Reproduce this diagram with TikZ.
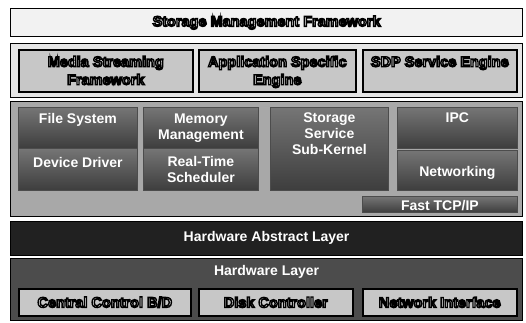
\documentclass[tikz,border=0pt]{standalone}
\usepackage{fontspec}
\setmainfont{Liberation Sans}
\usetikzlibrary{positioning}

\definecolor{topgray}{gray}{0.95}
\definecolor{appgray}{gray}{0.90}
\definecolor{litegray}{gray}{0.78}
\definecolor{kergray}{gray}{0.66}
\definecolor{dktop}{gray}{0.46}
\definecolor{dkbot}{gray}{0.24}
\definecolor{halgray}{gray}{0.13}
\definecolor{hwgray}{gray}{0.30}

% white letters with a black outline
\newcommand\olt[1]{{\color{white}\special{pdf:literal direct 0 G 1.4 w 2 Tr}#1\special{pdf:literal direct 0 Tr}}}

\tikzset{
  layer/.style={draw=black,line width=1.2pt,anchor=north west,inner sep=0pt},
  litebox/.style={draw=black,line width=1.6pt,fill=litegray,anchor=north west,inner sep=0pt},
  darkbox/.style={draw=black!70,line width=0.8pt,top color=dktop,bottom color=dkbot,anchor=north west,inner sep=0pt},
  wlbl/.style={text=white,font=\bfseries\fontsize{14}{16}\selectfont,align=center,inner sep=0pt},
  olbl/.style={font=\bfseries\fontsize{14.5}{18}\selectfont,align=center,inner sep=0pt}
}

\begin{document}
\begin{tikzpicture}[x=1pt,y=-1pt]
\useasboundingbox (0,0) rectangle (526,322);
% top layer
\node[layer,fill=topgray,minimum width=512,minimum height=28] (smf) at (10,8){};
\node[olbl] at (smf.center){\olt{Storage Management Framework}};
% application layer
\node[layer,fill=appgray,minimum width=512,minimum height=54] (app) at (10,43){};
\node[litebox,minimum width=174,minimum height=42] (msf) at (18,49){};
\node[litebox,minimum width=157,minimum height=42] (ase) at (198,49){};
\node[litebox,minimum width=154,minimum height=42] (sdp) at (362,49){};
\node[olbl,anchor=north] at ([yshift=-7pt]msf.north){\olt{Media Streaming}\\\olt{Framework}};
\node[olbl,anchor=north] at ([yshift=-7pt]ase.north){\olt{Application Specific}\\\olt{Engine}};
\node[olbl,anchor=north] at ([yshift=-7pt]sdp.north){\olt{SDP Service Engine}};
% kernel layer
\node[layer,fill=kergray,minimum width=512,minimum height=115] (ker) at (10,101){};
\node[darkbox,minimum width=119,minimum height=41] (fs) at (18,107){};
\node[darkbox,minimum width=115,minimum height=41] (mm) at (143,107){};
\node[darkbox,minimum width=119,minimum height=42] (dd) at (18,148){};
\node[darkbox,minimum width=115,minimum height=42] (rts) at (143,148){};
\node[darkbox,minimum width=118,minimum height=83] (ssk) at (270,107){};
\node[darkbox,minimum width=120,minimum height=41] (ipc) at (397,107){};
\node[darkbox,minimum width=120,minimum height=40] (net) at (397,150){};
\node[darkbox,minimum width=155,minimum height=16] (tcp) at (362,196){};
\node[wlbl,anchor=north] at ([yshift=-6pt]fs.north){File System};
\node[wlbl,anchor=north] at ([yshift=-7pt]mm.north){Memory\\Management};
\node[wlbl,anchor=north] at ([yshift=-9pt]dd.north){Device Driver};
\node[wlbl,anchor=north] at ([yshift=-8pt]rts.north){Real-Time\\Scheduler};
\node[wlbl,anchor=north] at ([yshift=-6pt]ssk.north){Storage\\Service\\Sub-Kernel};
\node[wlbl,anchor=north] at ([yshift=-6pt]ipc.north){IPC};
\node[wlbl] at ([yshift=-3pt]net.center){Networking};
\node[wlbl] at ([yshift=-1pt]tcp.center){Fast TCP/IP};
% hardware abstract layer
\node[layer,fill=halgray,minimum width=512,minimum height=34] (hal) at (10,221){};
\node[wlbl] at ([yshift=1pt]hal.center){Hardware Abstract Layer};
% hardware layer
\node[layer,fill=hwgray,minimum width=512,minimum height=62] (hw) at (10,258){};
\node[wlbl,anchor=north] at ([yshift=-7pt]hw.north){Hardware Layer};
\node[litebox,minimum width=172,minimum height=27] (ccb) at (18,288){};
\node[litebox,minimum width=154,minimum height=27] (dc) at (198,288){};
\node[litebox,minimum width=154,minimum height=27] (ni) at (362,288){};
\foreach \bx/\txt in {ccb/{Central Control B/D},dc/Disk Controller,ni/Network Interface}
  \node[olbl] at (\bx.center){\olt{\txt}};
\end{tikzpicture}
\end{document}
